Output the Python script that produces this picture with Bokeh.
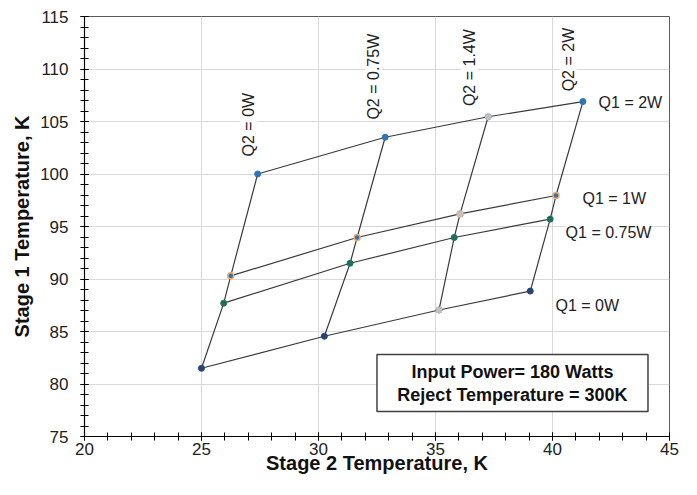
from bokeh.plotting import figure
from bokeh.models import Range1d, SingleIntervalTicker, Label
from bokeh.embed import file_html
from bokeh.resources import INLINE
import math

# Q1 levels (rows) and Q2 levels (columns)
q1_labels = ["Q1 = 0W", "Q1 = 0.75W", "Q1 = 1W", "Q1 = 2W"]
q2_labels = ["Q2 = 0W", "Q2 = 0.75W", "Q2 = 1.4W", "Q2 = 2W"]

# Stage 2 (x) and Stage 1 (y) temperatures, each list ordered Q1 = 0, 0.75, 1, 2 W
x_q2_0 = [25.0, 25.95, 26.25, 27.4]
y_q2_0 = [81.5, 87.7, 90.3, 100.0]
x_q2_075 = [30.25, 31.35, 31.65, 32.85]
y_q2_075 = [84.55, 91.5, 93.95, 103.5]
x_q2_14 = [35.15, 35.8, 36.05, 37.25]
y_q2_14 = [87.05, 93.95, 96.2, 105.45]
x_q2_2 = [39.05, 39.9, 40.15, 41.3]
y_q2_2 = [88.85, 95.7, 97.95, 106.9]

box_lines = ["Input Power= 180 Watts", "Reject Temperature = 300K"]

xs_cols = [x_q2_0, x_q2_075, x_q2_14, x_q2_2]
ys_cols = [y_q2_0, y_q2_075, y_q2_14, y_q2_2]

FONT = "Liberation Sans"
LINE = "#3a3a3a"

p = figure(width=697, height=495, output_backend="svg", toolbar_location=None,
           x_range=Range1d(20, 45), y_range=Range1d(75, 115),
           min_border_left=84, min_border_right=28, min_border_top=16, min_border_bottom=59)
p.background_fill_color = "white"
p.border_fill_color = "white"
p.outline_line_color = "#595959"
p.outline_line_width = 1

for ax, tick in ((p.xaxis[0], SingleIntervalTicker(interval=5, num_minor_ticks=5)),
                 (p.yaxis[0], SingleIntervalTicker(interval=5, num_minor_ticks=5))):
    ax.ticker = tick
    ax.axis_line_color = "black"
    ax.axis_line_width = 1.2
    ax.major_tick_line_color = "black"
    ax.minor_tick_line_color = "black"
    ax.major_tick_in = 4
    ax.major_tick_out = 4
    ax.minor_tick_in = 4
    ax.minor_tick_out = 4
    ax.major_label_text_font = FONT
    ax.major_label_text_font_size = "17px"
    ax.major_label_text_color = "#222222"
    ax.axis_label_text_font = FONT
    ax.axis_label_text_font_size = "20px"
    ax.axis_label_text_font_style = "bold"
    ax.axis_label_text_color = "#111111"

p.xaxis.axis_label = "Stage 2 Temperature, K"
p.yaxis.axis_label = "Stage 1 Temperature, K"
p.xaxis.major_label_standoff = 2
p.xaxis.axis_label_standoff = -6
p.yaxis.major_label_standoff = 12
p.yaxis.axis_label_standoff = 4

p.xgrid.ticker = p.xaxis[0].ticker
p.ygrid.ticker = p.yaxis[0].ticker
p.xgrid.grid_line_color = "#d9d9d9"
p.ygrid.grid_line_color = "#d9d9d9"

# Q2 = const lines
for xs, ys in zip(xs_cols, ys_cols):
    p.line(xs, ys, line_color=LINE, line_width=1.2)
# Q1 = const lines
for i in range(len(q1_labels)):
    p.line([c[i] for c in xs_cols], [c[i] for c in ys_cols], line_color=LINE, line_width=1.2)

# markers per Q1 series
row_style = [
    dict(fill_color="#264478", line_color="#264478", line_width=1),
    dict(fill_color="#1f6f5c", line_color="#1f6f5c", line_width=1),
    dict(fill_color="#2e75b6", line_color="#f0a868", line_width=1.5),
    dict(fill_color="#2e75b6", line_color="#2e75b6", line_width=1),
]
for i, st in enumerate(row_style):
    p.scatter([c[i] for c in xs_cols], [c[i] for c in ys_cols], size=6, **st)
# Q2 = 1.4W series markers (grey) drawn on top
p.scatter([x_q2_14[0], x_q2_14[2], x_q2_14[3]], [y_q2_14[0], y_q2_14[2], y_q2_14[3]],
          size=6, fill_color="#c0c0c0", line_color="#c0c0c0")

# Q2 labels (rotated)
q2_pos = [(27.0, 104.7), (32.35, 109.27), (36.45, 110.13), (40.68, 110.9)]
for txt, (lx, ly) in zip(q2_labels, q2_pos):
    p.add_layout(Label(x=lx, y=ly, text=txt, angle=math.pi / 2, text_align="center",
                       text_baseline="middle", text_font=FONT, text_font_size="16px",
                       text_color="#222222", background_fill_color="white"))

# Q1 labels
q1_pos = [(40.13, 87.49), (40.56, 94.47), (41.28, 97.71), (41.97, 106.79)]
for txt, (lx, ly) in zip(q1_labels, q1_pos):
    p.add_layout(Label(x=lx, y=ly, text=txt, text_align="left",
                       text_baseline="middle", text_font=FONT, text_font_size="16px",
                       text_color="#222222", background_fill_color="white"))

# annotation box
p.rect(x=[38.29], y=[80.09], width=271, height=57, width_units="screen", height_units="screen",
       fill_color="white", line_color="#404040", line_width=1.5)
p.add_layout(Label(x=38.29, y=80.09, y_offset=11, text=box_lines[0], text_align="center",
                   text_baseline="middle", text_font=FONT, text_font_size="18px",
                   text_font_style="bold", text_color="#111111"))
p.add_layout(Label(x=38.29, y=80.09, y_offset=-12, text=box_lines[1], text_align="center",
                   text_baseline="middle", text_font=FONT, text_font_size="18px",
                   text_font_style="bold", text_color="#111111"))

open("out.html", "w").write(file_html(p, INLINE))
